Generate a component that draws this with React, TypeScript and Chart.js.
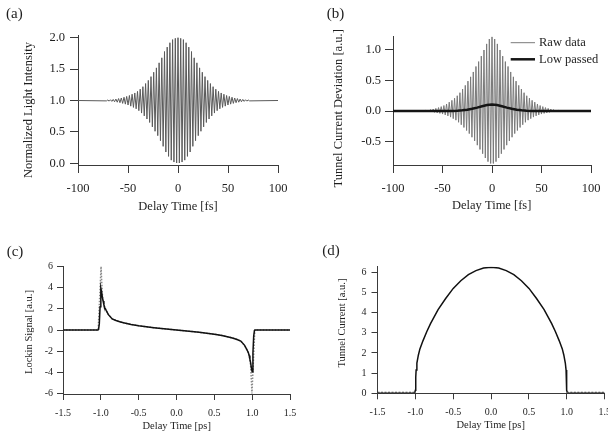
import { useEffect, useRef } from 'react';
import { Chart, registerables } from 'chart.js';

Chart.register(...registerables);

// ---------------- DATA ----------------
// Ripple grid (fs): peaks every RIPPLE_PERIOD starting at FIRST_PEAK, troughs half a period earlier.
const RIPPLE_PERIOD = 2.7;
const FIRST_PEAK = -70.2;
const FIRST_TROUGH = -71.55;
const DELAY_MIN_FS = -100;
const DELAY_MAX_FS = 100;

// (a) normalized light intensity: upper extrema and lower extrema of the fringes
const intensityBase = 1.0;
const intensityPeaks = [
  1.008, 1.012, 1.017, 1.023, 1.031, 1.04, 1.052, 1.065, 1.08, 1.1, 1.12, 1.145, 1.18,
  1.22, 1.27, 1.32, 1.38, 1.45, 1.52, 1.6, 1.68, 1.78, 1.85, 1.92, 1.97, 1.99,
  2.0,
  1.99, 1.97, 1.92, 1.85, 1.78, 1.68, 1.6, 1.52, 1.45, 1.38, 1.32, 1.27, 1.22,
  1.18, 1.145, 1.12, 1.1, 1.08, 1.065, 1.052, 1.04, 1.031, 1.023, 1.017, 1.012, 1.008,
];
const intensityTroughs = [
  0.994, 0.99, 0.986, 0.98, 0.973, 0.965, 0.954, 0.942, 0.928, 0.91, 0.89, 0.868, 0.838,
  0.8, 0.755, 0.705, 0.65, 0.58, 0.51, 0.44, 0.36, 0.27, 0.18, 0.11, 0.05, 0.02, 0.005,
  0.005, 0.02, 0.05, 0.11, 0.18, 0.27, 0.36, 0.44, 0.51, 0.58, 0.65, 0.705, 0.755,
  0.8, 0.838, 0.868, 0.89, 0.91, 0.928, 0.942, 0.954, 0.965, 0.973, 0.98, 0.986, 0.99, 0.994,
];

// (b) tunnel current deviation: raw data extrema and low-passed curve
const currentBase = 0.0;
const rawPeaks = [
  0.007, 0.011, 0.016, 0.023, 0.032, 0.043, 0.056, 0.072, 0.09, 0.115, 0.145, 0.175, 0.21,
  0.25, 0.3, 0.36, 0.42, 0.49, 0.56, 0.64, 0.73, 0.81, 0.9, 1.0, 1.1, 1.18,
  1.22,
  1.18, 1.1, 1.0, 0.9, 0.81, 0.73, 0.64, 0.56, 0.49, 0.42, 0.36, 0.3, 0.25,
  0.21, 0.175, 0.145, 0.115, 0.09, 0.072, 0.056, 0.043, 0.032, 0.023, 0.016, 0.011, 0.007,
];
const rawTroughs = [
  -0.003, -0.005, -0.008, -0.011, -0.016, -0.022, -0.03, -0.039, -0.05, -0.064, -0.08, -0.1, -0.125,
  -0.15, -0.185, -0.225, -0.27, -0.32, -0.37, -0.43, -0.49, -0.56, -0.63, -0.7, -0.77, -0.83, -0.86,
  -0.86, -0.83, -0.77, -0.7, -0.63, -0.56, -0.49, -0.43, -0.37, -0.32, -0.27, -0.225, -0.185,
  -0.15, -0.125, -0.1, -0.08, -0.064, -0.05, -0.039, -0.03, -0.022, -0.016, -0.011, -0.008, -0.005, -0.003,
];
const lowPassX = [-100, -50, -40, -35, -30, -25, -20, -15, -10, -5, 0, 5, 10, 15, 20, 25, 30, 35, 40, 50, 100];
const lowPassY = [0, 0, 0.002, 0.005, 0.011, 0.021, 0.036, 0.056, 0.078, 0.097, 0.105, 0.097, 0.078, 0.056, 0.036, 0.021, 0.011, 0.005, 0.002, 0, 0];

// (c) lock-in signal (ps)
const lockinX = [
  -1.5, -1.04, -1.03, -1.02, -1.01, -1.0, -0.99, -0.98, -0.97, -0.96, -0.95, -0.93, -0.9, -0.85, -0.8,
  -0.75, -0.7, -0.6, -0.5, -0.4, -0.3, -0.2, -0.1, 0, 0.1, 0.2, 0.3, 0.4, 0.5, 0.6, 0.7, 0.75,
  0.8, 0.85, 0.9, 0.93, 0.95, 0.96, 0.97, 0.98, 0.99, 1.0, 1.01, 1.02, 1.03, 1.04, 1.5,
];
const lockinY = [
  0, 0, 0.05, 0.6, 2.2, 3.95, 3.6, 3.1, 2.75, 2.4, 2.15, 1.85, 1.45, 1.05, 0.9,
  0.78, 0.68, 0.52, 0.4, 0.31, 0.22, 0.14, 0.07, 0, -0.07, -0.14, -0.22, -0.31, -0.4, -0.52, -0.68, -0.78,
  -0.9, -1.05, -1.45, -1.85, -2.15, -2.4, -2.75, -3.1, -3.6, -3.95, -2.2, -0.6, -0.05, 0, 0,
];
const lockinIdealX = [
  -1.5, -1.035, -0.997, -0.99, -0.98, -0.97, -0.96, -0.95, -0.93, -0.9, -0.85, -0.8, -0.75, -0.7,
  -0.6, -0.5, -0.4, -0.3, -0.2, -0.1, 0, 0.1, 0.2, 0.3, 0.4, 0.5, 0.6, 0.7, 0.75, 0.8, 0.85,
  0.9, 0.93, 0.95, 0.96, 0.97, 0.98, 0.99, 0.997, 1.035, 1.5,
];
const lockinIdealY = [
  0, 0, 6, 4.8, 3.4, 2.8, 2.45, 2.17, 1.86, 1.46, 1.06, 0.9, 0.78, 0.68,
  0.52, 0.4, 0.31, 0.22, 0.14, 0.07, 0, -0.07, -0.14, -0.22, -0.31, -0.4, -0.52, -0.68, -0.78, -0.9, -1.06,
  -1.46, -1.86, -2.17, -2.45, -2.8, -3.4, -4.8, -6, 0, 0,
];

// (d) tunnel current (ps)
const tunnelX = [
  -1.5, -1.01, -1.0, -0.995, -0.99, -0.98, -0.96, -0.94, -0.9, -0.85, -0.8, -0.75, -0.7, -0.6, -0.5,
  -0.4, -0.3, -0.2, -0.1, 0, 0.1, 0.2, 0.3, 0.4, 0.5, 0.6, 0.7, 0.75, 0.8, 0.85, 0.9, 0.94, 0.96,
  0.98, 0.99, 0.995, 1.0, 1.01, 1.5,
];
const tunnelY = [
  0, 0, 0.15, 0.8, 1.15, 1.5, 1.9, 2.2, 2.6, 3.05, 3.45, 3.8, 4.15, 4.7, 5.2,
  5.58, 5.88, 6.08, 6.21, 6.25, 6.21, 6.08, 5.88, 5.58, 5.2, 4.7, 4.15, 3.8, 3.45, 3.05, 2.6, 2.2, 1.9,
  1.5, 1.15, 0.8, 0.15, 0, 0,
];
const tunnelBaselineX = [-1.5, -1.0, 0, 1.0, 1.5];
const tunnelBaselineY: (number | null)[] = [0, 0, null, 0, 0];

// ticks
const fsTicks = [-100, -50, 0, 50, 100];
const intensityTicks = [0, 0.5, 1.0, 1.5, 2.0];
const deviationTicks = [-0.5, 0, 0.5, 1.0];
const psTicks = [-1.5, -1.0, -0.5, 0, 0.5, 1.0, 1.5];
const lockinTicks = [-6, -4, -2, 0, 2, 4, 6];
const tunnelTicks = [0, 1, 2, 3, 4, 5, 6];

// ---------------- helpers ----------------
const SERIF = '"Liberation Serif", "Times New Roman", serif';
const AXIS = '#3a3a3a';
const INK = '#1e1e1e';

function ripple(peaks: number[], troughs: number[], base: number) {
  const pts: { x: number; y: number }[] = [{ x: DELAY_MIN_FS, y: base }];
  for (let j = 0; j < troughs.length; j++) {
    pts.push({ x: FIRST_TROUGH + j * RIPPLE_PERIOD, y: troughs[j] });
    if (j < peaks.length) pts.push({ x: FIRST_PEAK + j * RIPPLE_PERIOD, y: peaks[j] });
  }
  pts.push({ x: DELAY_MAX_FS, y: base });
  return pts;
}

function zip(xs: number[], ys: (number | null)[]) {
  return xs.map((x, i) => ({ x, y: ys[i] }));
}

type TextItem = { text: string; x: number; y: number; size: number; align?: CanvasTextAlign; rot?: boolean };
type LegendItem = { label: string; color: string; width: number; y: number };

type Panel = {
  area: [number, number, number, number];
  xRange: [number, number];
  yRange: [number, number];
  xTicks: number[];
  yTicks: number[];
  xDigits: number;
  yDigits: number;
  tickLen: number;
  tickFont: number;
  xPad: number;
  yPad: number;
  datasets: any[];
  texts: TextItem[];
  legend?: { x1: number; x2: number; textX: number; size: number; items: LegendItem[] };
};

const Y_BOX = 40;
const X_BOX = 30;
const W = 608;
const H = 439;

function buildConfig(p: Panel): any {
  const [L, T, R, B] = p.area;
  const font = { family: SERIF, size: p.tickFont };
  const overlay = {
    id: 'overlayText',
    afterDraw(chart: any) {
      const ctx = chart.ctx as CanvasRenderingContext2D;
      ctx.save();
      ctx.fillStyle = INK;
      ctx.textBaseline = 'middle';
      for (const t of p.texts) {
        ctx.save();
        ctx.font = `${t.size}px ${SERIF}`;
        ctx.textAlign = t.align || 'center';
        ctx.translate(t.x, t.y);
        if (t.rot) ctx.rotate(-Math.PI / 2);
        ctx.fillText(t.text, 0, 0);
        ctx.restore();
      }
      if (p.legend) {
        const lg = p.legend;
        ctx.font = `${lg.size}px ${SERIF}`;
        ctx.textAlign = 'left';
        for (const it of lg.items) {
          ctx.beginPath();
          ctx.strokeStyle = it.color;
          ctx.lineWidth = it.width;
          ctx.moveTo(lg.x1, it.y);
          ctx.lineTo(lg.x2, it.y);
          ctx.stroke();
          ctx.fillStyle = INK;
          ctx.fillText(it.label, lg.textX, it.y);
        }
      }
      ctx.restore();
    },
  };
  return {
    type: 'line',
    data: { datasets: p.datasets },
    options: {
      responsive: false,
      animation: false,
      events: [],
      layout: {
        autoPadding: false,
        padding: { left: L - Y_BOX, top: T, right: W - R, bottom: H - B - X_BOX },
      },
      plugins: { legend: { display: false }, title: { display: false }, tooltip: { enabled: false } },
      elements: { point: { radius: 0 }, line: { tension: 0 } },
      scales: {
        x: {
          type: 'linear',
          min: p.xRange[0],
          max: p.xRange[1],
          afterBuildTicks: (s: any) => {
            s.ticks = p.xTicks.map((v) => ({ value: v }));
          },
          afterFit: (s: any) => {
            s.height = X_BOX;
            s.paddingLeft = 0;
            s.paddingRight = 0;
          },
          ticks: {
            callback: (v: number) => Number(v).toFixed(p.xDigits),
            font,
            color: INK,
            padding: p.xPad,
            maxRotation: 0,
            autoSkip: false,
          },
          grid: { drawOnChartArea: false, drawTicks: true, tickLength: p.tickLen, color: AXIS, tickWidth: 1 },
          border: { display: true, color: AXIS, width: 1 },
        },
        y: {
          type: 'linear',
          min: p.yRange[0],
          max: p.yRange[1],
          afterBuildTicks: (s: any) => {
            s.ticks = p.yTicks.map((v) => ({ value: v }));
          },
          afterFit: (s: any) => {
            s.width = Y_BOX;
            s.paddingTop = 0;
            s.paddingBottom = 0;
          },
          ticks: {
            callback: (v: number) => Number(v).toFixed(p.yDigits),
            font,
            color: INK,
            padding: p.yPad,
            autoSkip: false,
          },
          grid: { drawOnChartArea: false, drawTicks: true, tickLength: p.tickLen, color: AXIS, tickWidth: 1 },
          border: { display: true, color: AXIS, width: 1 },
        },
      },
    },
    plugins: [overlay],
  };
}

const panels: Panel[] = [
  {
    area: [78, 35, 278, 165],
    xRange: [-100, 100],
    yRange: [-0.027, 2.043],
    xTicks: fsTicks,
    yTicks: intensityTicks,
    xDigits: 0,
    yDigits: 1,
    tickLen: 8,
    tickFont: 12.5,
    xPad: 8,
    yPad: 5,
    datasets: [
      {
        label: 'Intensity',
        data: ripple(intensityPeaks, intensityTroughs, intensityBase),
        borderColor: '#5a5a5a',
        borderWidth: 1,
        pointRadius: 0,
      },
    ],
    texts: [
      { text: '(a)', x: 6, y: 14, size: 15, align: 'left' },
      { text: 'Normalized Light Intensity', x: 28.3, y: 110, size: 12.5, rot: true },
      { text: 'Delay Time [fs]', x: 178, y: 206.7, size: 12.5 },
    ],
  },
  {
    area: [393, 36.7, 591, 165],
    xRange: [-100, 100],
    yRange: [-0.885, 1.218],
    xTicks: fsTicks,
    yTicks: deviationTicks,
    xDigits: 0,
    yDigits: 1,
    tickLen: 8,
    tickFont: 12.5,
    xPad: 8,
    yPad: 4,
    datasets: [
      {
        label: 'Raw data',
        data: ripple(rawPeaks, rawTroughs, currentBase),
        borderColor: '#7a7a7a',
        borderWidth: 1,
        pointRadius: 0,
        order: 2,
      },
      {
        label: 'Low passed',
        data: zip(lowPassX, lowPassY),
        borderColor: '#151515',
        borderWidth: 2.5,
        pointRadius: 0,
        order: 1,
      },
    ],
    texts: [
      { text: '(b)', x: 326.7, y: 14, size: 15, align: 'left' },
      { text: 'Tunnel Current Deviation [a.u.]', x: 339, y: 108.3, size: 12.5, rot: true },
      { text: 'Delay Time [fs]', x: 491.7, y: 205.7, size: 12.5 },
    ],
    legend: {
      x1: 510.7,
      x2: 535,
      textX: 539,
      size: 12.5,
      items: [
        { label: 'Raw data', color: '#7a7a7a', width: 1, y: 42.7 },
        { label: 'Low passed', color: '#151515', width: 2.5, y: 59.3 },
      ],
    },
  },
  {
    area: [63, 266, 290, 394],
    xRange: [-1.5, 1.5],
    yRange: [-6.05, 6.05],
    xTicks: psTicks,
    yTicks: lockinTicks,
    xDigits: 1,
    yDigits: 0,
    tickLen: 6,
    tickFont: 10,
    xPad: 7,
    yPad: 4,
    datasets: [
      {
        label: 'Lockin',
        data: zip(lockinX, lockinY),
        borderColor: '#111111',
        borderWidth: 1.5,
        pointRadius: 0,
        order: 1,
      },
      {
        label: 'Lockin ideal',
        data: zip(lockinIdealX, lockinIdealY),
        borderColor: '#8a8a8a',
        borderWidth: 1.5,
        borderDash: [1.5, 1.5],
        pointRadius: 0,
        order: 2,
      },
    ],
    texts: [
      { text: '(c)', x: 6.7, y: 251.7, size: 15, align: 'left' },
      { text: 'Lockin Signal [a.u.]', x: 29.3, y: 332, size: 10.5, rot: true },
      { text: 'Delay Time [ps]', x: 176.7, y: 426.7, size: 10.5 },
    ],
  },
  {
    area: [377.5, 266.8, 604.7, 393.3],
    xRange: [-1.5, 1.5],
    yRange: [0, 6.27],
    xTicks: psTicks,
    yTicks: tunnelTicks,
    xDigits: 1,
    yDigits: 0,
    tickLen: 6,
    tickFont: 10,
    xPad: 7,
    yPad: 5,
    datasets: [
      {
        label: 'Tunnel current',
        data: zip(tunnelX, tunnelY),
        borderColor: '#111111',
        borderWidth: 1.5,
        pointRadius: 0,
        order: 2,
      },
      {
        label: 'Baseline',
        data: zip(tunnelBaselineX, tunnelBaselineY),
        borderColor: '#505050',
        borderWidth: 3,
        borderDash: [2, 1.5],
        pointRadius: 0,
        spanGaps: false,
        order: 1,
      },
    ],
    texts: [
      { text: '(d)', x: 322.3, y: 250.7, size: 15, align: 'left' },
      { text: 'Tunnel Current [a.u.]', x: 342.3, y: 323, size: 10.5, rot: true },
      { text: 'Delay Time [ps]', x: 490.7, y: 425, size: 10.5 },
    ],
  },
];

export default function App() {
  const r0 = useRef<HTMLCanvasElement>(null);
  const r1 = useRef<HTMLCanvasElement>(null);
  const r2 = useRef<HTMLCanvasElement>(null);
  const r3 = useRef<HTMLCanvasElement>(null);
  const refs = [r0, r1, r2, r3];

  useEffect(() => {
    const charts = panels.map((p, i) => new Chart(refs[i].current as HTMLCanvasElement, buildConfig(p)));
    return () => charts.forEach((c) => c.destroy());
  }, []);

  return (
    <div style={{ position: 'absolute', left: 0, top: 0, width: W, height: H, background: '#ffffff' }}>
      {refs.map((r, i) => (
        <canvas
          key={i}
          ref={r}
          width={W}
          height={H}
          style={{ position: 'absolute', left: 0, top: 0, width: W, height: H }}
        />
      ))}
    </div>
  );
}
